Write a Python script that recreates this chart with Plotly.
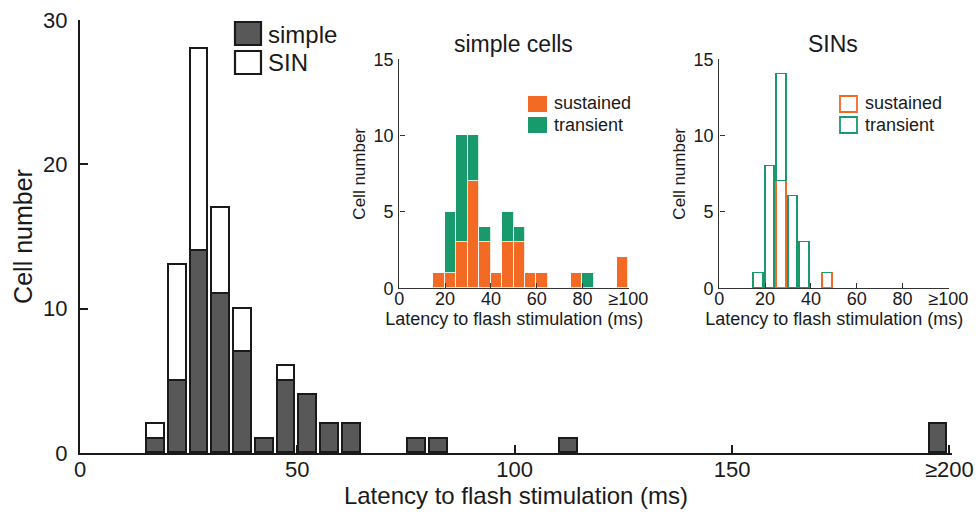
import plotly.graph_objects as go

# ---------------- data ----------------
# main histogram (bin centres in ms; last bin = ">=200")
main_bins = [17.5, 22.5, 27.5, 32.5, 37.5, 42.5, 47.5, 52.5, 57.5, 62.5, 77.5, 82.5, 112.5, 197.5]
main_simple = [1, 5, 14, 11, 7, 1, 5, 4, 2, 2, 1, 1, 1, 2]
main_sin = [1, 8, 14, 6, 3, 0, 1, 0, 0, 0, 0, 0, 0, 0]
main_xticks = [0, 50, 100, 150, 200]
main_xticklabels = ["0", "50", "100", "150", "≥200"]
main_yticks = [0, 10, 20, 30]

# inset: simple cells (last bin = ">=100")
simple_bins = [17.5, 22.5, 27.5, 32.5, 37.5, 42.5, 47.5, 52.5, 57.5, 62.5, 77.5, 82.5, 97.5]
simple_sustained = [1, 1, 3, 7, 3, 1, 3, 3, 1, 1, 1, 0, 2]
simple_transient = [0, 4, 7, 3, 1, 0, 2, 1, 0, 0, 0, 1, 0]

# inset: SINs
sin_bins = [17.5, 22.5, 27.5, 32.5, 37.5, 47.5]
sin_sustained = [0, 0, 7, 0, 0, 1]
sin_transient = [1, 8, 7, 6, 3, 0]

inset_xticks = [0, 20, 40, 60, 80, 100]
inset_xticklabels = ["0", "20", "40", "60", "80", "≥100"]
inset_yticks = [0, 5, 10, 15]

# ---------------- style ----------------
W, H = 976, 517
FONT = "Liberation Sans, Arial, sans-serif"
ORANGE = "#F26A24"
GREEN = "#189A6C"
DARK = "#585858"
INK = "#1a1a1a"


def px(x):
    return x / W


def py(y):
    return (H - y) / H


fig = go.Figure()

# main histogram
fig.add_trace(go.Bar(x=main_bins, y=main_simple, width=4.1, name="simple",
                     marker=dict(color=DARK, line=dict(color=INK, width=1.6)),
                     xaxis="x", yaxis="y", showlegend=False))
fig.add_trace(go.Bar(x=main_bins, y=main_sin, width=4.1, name="SIN",
                     marker=dict(color="white", line=dict(color=INK, width=1.6)),
                     xaxis="x", yaxis="y", showlegend=False))

# inset simple cells
fig.add_trace(go.Bar(x=simple_bins, y=simple_sustained, width=5, name="sustained",
                     marker=dict(color=ORANGE, line=dict(color="white", width=0.8)),
                     xaxis="x2", yaxis="y2", showlegend=False))
fig.add_trace(go.Bar(x=simple_bins, y=simple_transient, width=5, name="transient",
                     marker=dict(color=GREEN, line=dict(color="white", width=0.8)),
                     xaxis="x2", yaxis="y2", showlegend=False))

# inset SINs
fig.add_trace(go.Bar(x=sin_bins, y=sin_sustained, width=4.2, name="sustained",
                     marker=dict(color="rgba(255,255,255,0)", line=dict(color=ORANGE, width=1.8)),
                     xaxis="x3", yaxis="y3", showlegend=False))
fig.add_trace(go.Bar(x=sin_bins, y=sin_transient, width=4.2, name="transient",
                     marker=dict(color="rgba(255,255,255,0)", line=dict(color=GREEN, width=1.8)),
                     xaxis="x3", yaxis="y3", showlegend=False))

axis_common = dict(showgrid=False, zeroline=False, showline=True, ticks="inside",
                   mirror=False, fixedrange=True, automargin=False)

main_x_dom = [px(80), px(952)]
main_y_dom = [py(453), py(20)]
in1_x_dom = [px(399.3), px(629.3)]
in2_x_dom = [px(719.3), px(949.3)]
in_y_dom = [py(288.3), py(59.3)]

inset_x = dict(tickvals=inset_xticks, ticktext=inset_xticklabels, ticklen=5, tickwidth=1,
               linewidth=1.4, linecolor="#333", tickcolor="#333",
               tickfont=dict(size=18), ticklabelstandoff=-6,
               title=dict(text="Latency to flash stimulation (ms)", font=dict(size=18), standoff=0))
inset_y = dict(tickvals=inset_yticks, ticklen=5, tickwidth=1,
               linewidth=1.4, linecolor="#333", tickcolor="#333",
               tickfont=dict(size=18), ticklabelstandoff=1,
               title=dict(text="Cell number", font=dict(size=17), standoff=3))

fig.update_layout(
    width=W, height=H,
    margin=dict(l=0, r=0, t=0, b=0, autoexpand=False),
    paper_bgcolor="white", plot_bgcolor="rgba(0,0,0,0)",
    barmode="stack", bargap=0,
    font=dict(family=FONT, color=INK),
    xaxis=dict(axis_common, domain=main_x_dom, range=[0, 200.6], anchor="y",
               tickvals=main_xticks, ticktext=main_xticklabels, ticklen=8, tickwidth=1.5,
               linewidth=2, linecolor=INK, tickcolor=INK,
               tickfont=dict(size=22), ticklabelstandoff=-4,
               title=dict(text="Latency to flash stimulation (ms)", font=dict(size=24), standoff=4)),
    yaxis=dict(axis_common, domain=main_y_dom, range=[0, 30], anchor="x",
               tickvals=main_yticks, ticklen=8, tickwidth=1.5,
               linewidth=2, linecolor=INK, tickcolor=INK,
               tickfont=dict(size=22), ticklabelstandoff=6,
               title=dict(text="Cell number", font=dict(size=25), standoff=3)),
    xaxis2=dict(axis_common, domain=in1_x_dom, range=[0, 100.4], anchor="y2", **inset_x),
    yaxis2=dict(axis_common, domain=in_y_dom, range=[0, 15], anchor="x2", **inset_y),
    xaxis3=dict(axis_common, domain=in2_x_dom, range=[0, 100.4], anchor="y3", **inset_x),
    yaxis3=dict(axis_common, domain=in_y_dom, range=[0, 15], anchor="x3", **inset_y),
)

shapes = []
annotations = []

# main legend
shapes.append(dict(type="rect", xref="paper", yref="paper", x0=px(235), x1=px(261), y0=py(45), y1=py(22),
                   fillcolor=DARK, line=dict(color=INK, width=2.2)))
shapes.append(dict(type="rect", xref="paper", yref="paper", x0=px(235), x1=px(261), y0=py(74), y1=py(51),
                   fillcolor="white", line=dict(color=INK, width=2.2)))
annotations.append(dict(xref="paper", yref="paper", x=px(266), y=py(34), text="simple", showarrow=False,
                        xanchor="left", yanchor="middle", font=dict(size=24)))
annotations.append(dict(xref="paper", yref="paper", x=px(266), y=py(62), text="SIN", showarrow=False,
                        xanchor="left", yanchor="middle", font=dict(size=24)))

# inset titles
annotations.append(dict(xref="paper", yref="paper", x=px(513), y=py(44), text="simple cells", showarrow=False,
                        xanchor="center", yanchor="middle", font=dict(size=23)))
annotations.append(dict(xref="paper", yref="paper", x=px(833), y=py(44), text="SINs", showarrow=False,
                        xanchor="center", yanchor="middle", font=dict(size=23)))

# inset 1 legend (filled)
shapes.append(dict(type="rect", xref="paper", yref="paper", x0=px(528), x1=px(547), y0=py(112), y1=py(96),
                   fillcolor=ORANGE, line=dict(width=0)))
shapes.append(dict(type="rect", xref="paper", yref="paper", x0=px(528), x1=px(547), y0=py(133), y1=py(117),
                   fillcolor=GREEN, line=dict(width=0)))
annotations.append(dict(xref="paper", yref="paper", x=px(552), y=py(103), text="sustained", showarrow=False,
                        xanchor="left", yanchor="middle", font=dict(size=18)))
annotations.append(dict(xref="paper", yref="paper", x=px(552), y=py(125), text="transient", showarrow=False,
                        xanchor="left", yanchor="middle", font=dict(size=18)))

# inset 2 legend (outlined)
shapes.append(dict(type="rect", xref="paper", yref="paper", x0=px(840), x1=px(857), y0=py(112), y1=py(96),
                   fillcolor="white", line=dict(color=ORANGE, width=1.8)))
shapes.append(dict(type="rect", xref="paper", yref="paper", x0=px(840), x1=px(857), y0=py(133), y1=py(117),
                   fillcolor="white", line=dict(color=GREEN, width=1.8)))
annotations.append(dict(xref="paper", yref="paper", x=px(863), y=py(103), text="sustained", showarrow=False,
                        xanchor="left", yanchor="middle", font=dict(size=18)))
annotations.append(dict(xref="paper", yref="paper", x=px(863), y=py(125), text="transient", showarrow=False,
                        xanchor="left", yanchor="middle", font=dict(size=18)))

fig.update_layout(shapes=shapes, annotations=annotations)

fig.write_html("out.html")
